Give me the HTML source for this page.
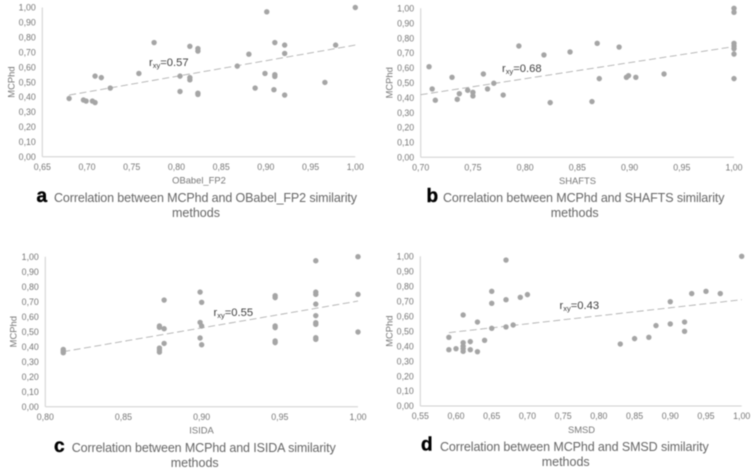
<!DOCTYPE html>
<html>
<head>
<meta charset="utf-8">
<title>Correlation between MCPhd and similarity methods</title>
<style>
html,body{margin:0;padding:0;background:#fff;}
svg{display:block;filter:blur(0.4px);}
text{font-family:"Liberation Sans",Arial,sans-serif;}
</style>
</head>
<body>
<svg id="figure" width="755" height="472" viewBox="0 0 755 472" xmlns="http://www.w3.org/2000/svg"></svg>
<script>
// Shared Y axis ticks
const yTicks = [0, 0.1, 0.2, 0.3, 0.4, 0.5, 0.6, 0.7, 0.8, 0.9, 1.0];

// Panel a
const aTicks = [0.65, 0.70, 0.75, 0.80, 0.85, 0.90, 0.95, 1.00];
const aX = [.68,.696,.699,.706,.709,.709,.716,.726,.758,.775,.804,.804,.815,.815,.815,.824,.824,.824,.824,.868,.881,.888,.899,.901,.909,.910,.910,.910,.921,.921,.921,.966,.978,1.0];
const aY = [.39,.38,.373,.373,.363,.54,.53,.46,.558,.765,.54,.437,.74,.53,.515,.725,.708,.426,.417,.607,.687,.46,.558,.971,.449,.765,.55,.538,.748,.692,.413,.498,.748,1.0];
const aTrendX = [.68, 1.0];
const aTrendY = [.413, .748];

// Panel b
const bTicks = [0.70, 0.75, 0.80, 0.85, 0.90, 0.95, 1.00];
const bX = [.708,.711,.714,.730,.735,.737,.745,.750,.750,.760,.764,.770,.779,.794,.818,.824,.843,.864,.869,.871,.890,.897,.899,.906,.933,1.0,1.0,1.0,1.0,1.0,1.0,1.0];
const bY = [.608,.459,.383,.537,.389,.427,.45,.436,.412,.559,.459,.497,.418,.747,.687,.367,.707,.374,.765,.528,.74,.537,.548,.537,.559,1.0,.973,.765,.747,.729,.693,.528];
const bTrendX = [.70, 1.0];
const bTrendY = [.42, .743];

// Panel c
const cTicks = [0.80, 0.85, 0.90, 0.95, 1.00];
const cX = [.8115,.8115,.8115,.873,.873,.873,.873,.873,.876,.876,.876,.899,.899,.899,.9,.9,.9,.947,.947,.947,.947,.947,.947,.973,.973,.973,.973,.973,.973,.973,.973,.973,1.0,1.0,1.0];
const cY = [.382,.371,.36,.538,.529,.391,.378,.364,.711,.52,.422,.764,.562,.458,.696,.538,.413,.74,.727,.538,.527,.438,.427,.973,.764,.749,.684,.607,.56,.549,.46,.449,1.0,.749,.498];
const cTrendX = [.8115, 1.0];
const cTrendY = [.367, .704];

// Panel d
const dTicks = [0.55, 0.60, 0.65, 0.70, 0.75, 0.80, 0.85, 0.90, 0.95, 1.00];
const dX = [.59,.59,.60,.61,.61,.61,.61,.61,.62,.62,.63,.63,.64,.65,.65,.65,.67,.67,.67,.68,.69,.70,.83,.85,.87,.88,.90,.90,.92,.92,.93,.95,.97,1.0];
const dY = [.459,.376,.383,.608,.423,.40,.383,.365,.43,.376,.561,.363,.439,.766,.686,.519,.975,.71,.528,.541,.726,.744,.414,.45,.459,.537,.697,.548,.561,.499,.751,.766,.751,1.0];
const dTrendX = [.59, 1.0];
const dTrendY = [.49, .71];

const NS = 'http://www.w3.org/2000/svg';
const svg = document.getElementById('figure');

function node(parent, tag, attrs, content) {
  const el = document.createElementNS(NS, tag);
  for (const k in attrs) el.setAttribute(k, attrs[k]);
  if (content !== undefined) el.textContent = content;
  parent.appendChild(el);
  return el;
}
function fmt(v) { return v.toFixed(2).replace('.', ','); }

function drawPanel(p) {
  const g = node(svg, 'g', {});
  
  

  const x0 = p.xTicks[0], x1 = p.xTicks[p.xTicks.length - 1];
  const sx = v => p.left + (v - x0) / (x1 - x0) * (p.right - p.left);
  const sy = v => p.bottom - v * (p.bottom - p.top);

  // axes
  const yAxis = node(g, 'line', {x1: p.left, x2: p.left, y1: p.top, y2: p.bottom, stroke: '#d0d0d0', 'stroke-width': 1});
  
  
  const xAxis = node(g, 'line', {x1: p.left, x2: p.right, y1: p.bottom, y2: p.bottom, stroke: '#d0d0d0', 'stroke-width': 1});
  
  

  // y ticks
  yTicks.forEach(v => {
    const t = node(g, 'text', {x: p.left - 6.5, y: sy(v) + 3.2, 'text-anchor': 'end', 'font-size': 8.8, fill: '#767676'}, fmt(v));
    
    
  });
  // x ticks
  p.xTicks.forEach(v => {
    const t = node(g, 'text', {x: sx(v), y: p.bottom + 13.2, 'text-anchor': 'middle', 'font-size': 8.8, fill: '#767676'}, fmt(v));
    
    
  });

  // axis titles
  const xt = node(g, 'text', {x: p.xTitleX, y: p.bottom + 26.8, 'text-anchor': 'middle', 'font-size': 9.4, fill: '#767676'}, p.xName);
  
  
  const ymid = (p.top + p.bottom) / 2;
  const yt = node(g, 'text', {x: 0, y: 0, 'text-anchor': 'middle', 'font-size': 9.4, fill: '#767676', transform: 'translate(' + p.yTitleX + ',' + ymid + ') rotate(-90)'}, 'MCPhd');
  
  

  // trend line
  const tr = node(g, 'line', {x1: sx(p.trendX[0]), y1: sy(p.trendY[0]), x2: sx(p.trendX[1]), y2: sy(p.trendY[1]), stroke: '#b0b0b0', 'stroke-width': 0.9, 'stroke-dasharray': '7 3.5'});
  
  

  // points
  p.xs.forEach((v, i) => {
    const c = node(g, 'circle', {cx: sx(v), cy: sy(p.ys[i]), r: 2.7, fill: '#a5a5a5'});
    
    
  });

  // correlation label
  const r = node(g, 'text', {x: p.rX, y: p.rY, 'font-size': 11.2, fill: '#404040'});
  
  
  node(r, 'tspan', {}, 'r');
  node(r, 'tspan', {'font-size': 7.5, dy: 2}, 'xy');
  node(r, 'tspan', {dy: -2}, '=' + p.rValue);

  // panel letter
  const l = node(g, 'text', {x: p.letterX, y: p.capY + 4, 'font-size': 19, 'font-weight': 'bold', fill: '#000', stroke: '#000', 'stroke-width': 0.4}, p.id);
  
  

  // caption
  const c1 = node(g, 'text', {x: p.capX, y: p.capY + 4.2, 'font-size': 12.5, fill: '#666', textLength: p.capW, lengthAdjust: 'spacing'}, 'Correlation between MCPhd and ' + p.xName + ' similarity');
  
  
  const c2 = node(g, 'text', {x: p.cap2X, y: p.capY + 19.2, 'font-size': 12.5, 'text-anchor': 'middle', fill: '#666'}, 'methods');
  
  
}

drawPanel({id: 'a', xName: 'OBabel_FP2', xTicks: aTicks, xs: aX, ys: aY, trendX: aTrendX, trendY: aTrendY, rValue: '0.57',
  left: 42.3, right: 355.3, top: 7.5, bottom: 156.7, xTitleX: 199, yTitleX: 14.5, rX: 149, rY: 66,
  letterX: 36.5, capX: 54, capW: 303, capY: 198, cap2X: 196});
drawPanel({id: 'b', xName: 'SHAFTS', xTicks: bTicks, xs: bX, ys: bY, trendX: bTrendX, trendY: bTrendY, rValue: '0.68',
  left: 420.7, right: 734, top: 8.3, bottom: 157.3, xTitleX: 577.5, yTitleX: 392.5, rX: 502, rY: 72,
  letterX: 426.5, capX: 443, capW: 281.5, capY: 198, cap2X: 574.7});
drawPanel({id: 'c', xName: 'ISIDA', xTicks: cTicks, xs: cX, ys: cY, trendX: cTrendX, trendY: cTrendY, rValue: '0.55',
  left: 45.3, right: 358, top: 256.7, bottom: 406.7, xTitleX: 201.5, yTitleX: 16.5, rX: 213.5, rY: 316,
  letterX: 54, capX: 71.7, capW: 264, capY: 448, cap2X: 194.7});
drawPanel({id: 'd', xName: 'SMSD', xTicks: dTicks, xs: dX, ys: dY, trendX: dTrendX, trendY: dTrendY, rValue: '0.43',
  left: 420.3, right: 741.7, top: 256.3, bottom: 406, xTitleX: 581.5, yTitleX: 392.5, rX: 559.5, rY: 309,
  letterX: 421, capX: 440, capW: 268.7, capY: 446.7, cap2X: 565.7});
</script>
</body>
</html>
